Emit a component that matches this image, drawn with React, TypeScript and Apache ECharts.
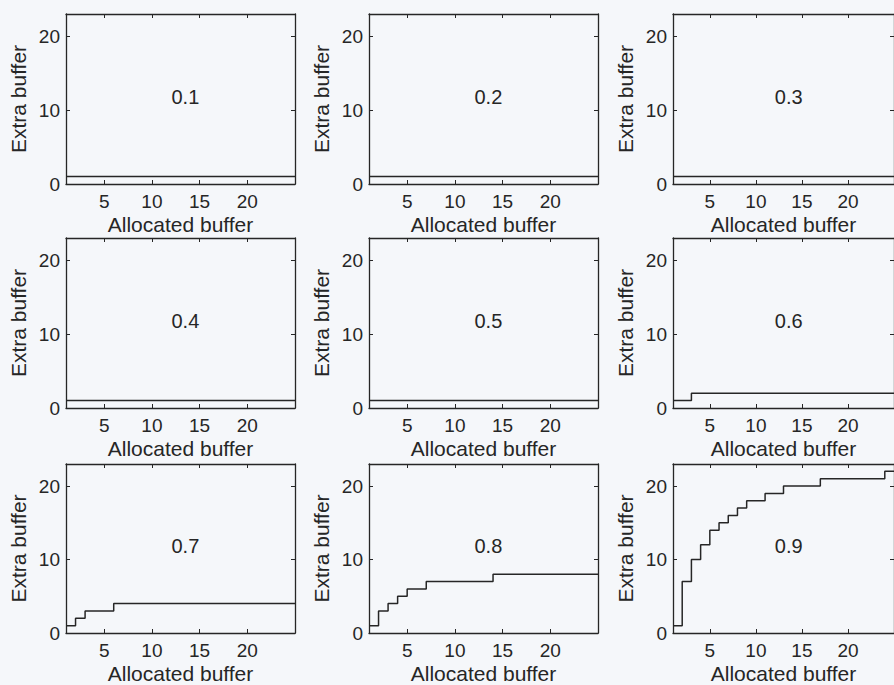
import React, { useEffect, useRef } from 'react';
import * as echarts from 'echarts';

const allocated = [1, 2, 3, 4, 5, 6, 7, 8, 9, 10, 11, 12, 13, 14, 15, 16, 17, 18, 19, 20, 21, 22, 23, 24, 25];
const panelLabels = ['0.1', '0.2', '0.3', '0.4', '0.5', '0.6', '0.7', '0.8', '0.9'];

const extra01 = [1, 1, 1, 1, 1, 1, 1, 1, 1, 1, 1, 1, 1, 1, 1, 1, 1, 1, 1, 1, 1, 1, 1, 1, 1];
const extra02 = [1, 1, 1, 1, 1, 1, 1, 1, 1, 1, 1, 1, 1, 1, 1, 1, 1, 1, 1, 1, 1, 1, 1, 1, 1];
const extra03 = [1, 1, 1, 1, 1, 1, 1, 1, 1, 1, 1, 1, 1, 1, 1, 1, 1, 1, 1, 1, 1, 1, 1, 1, 1];
const extra04 = [1, 1, 1, 1, 1, 1, 1, 1, 1, 1, 1, 1, 1, 1, 1, 1, 1, 1, 1, 1, 1, 1, 1, 1, 1];
const extra05 = [1, 1, 1, 1, 1, 1, 1, 1, 1, 1, 1, 1, 1, 1, 1, 1, 1, 1, 1, 1, 1, 1, 1, 1, 1];
const extra06 = [1, 1, 2, 2, 2, 2, 2, 2, 2, 2, 2, 2, 2, 2, 2, 2, 2, 2, 2, 2, 2, 2, 2, 2, 2];
const extra07 = [1, 2, 3, 3, 3, 4, 4, 4, 4, 4, 4, 4, 4, 4, 4, 4, 4, 4, 4, 4, 4, 4, 4, 4, 4];
const extra08 = [1, 3, 4, 5, 6, 6, 7, 7, 7, 7, 7, 7, 7, 8, 8, 8, 8, 8, 8, 8, 8, 8, 8, 8, 8];
const extra09 = [1, 7, 10, 12, 14, 15, 16, 17, 18, 18, 19, 19, 20, 20, 20, 20, 21, 21, 21, 21, 21, 21, 21, 22, 22];

const panelValues = [extra01, extra02, extra03, extra04, extra05, extra06, extra07, extra08, extra09];

const xTicks = [5, 10, 15, 20];
const yTicks = [0, 10, 20];
const xRange = [1, 25];
const yRange = [0, 23];
const labelPos = [12, 11.8];

const FONT = 'Liberation Sans, Arial, Helvetica, sans-serif';
const INK = '#262626';

const colLefts = [66, 369, 673];
const rowTops = [14, 238, 464];
const gridW = 229;
const gridH = 170;

export default function App() {
  const ref = useRef<HTMLDivElement>(null);

  useEffect(() => {
    document.body.style.margin = '0';
    if (!ref.current) return;
    const chart = echarts.init(ref.current, undefined, { renderer: 'svg' });

    const grids: any[] = [];
    const xAxes: any[] = [];
    const yAxes: any[] = [];
    const series: any[] = [];

    panelValues.forEach((vals, i) => {
      const r = Math.floor(i / 3);
      const c = i % 3;
      grids.push({ left: colLefts[c], top: rowTops[r], width: gridW, height: gridH, containLabel: false });
      const axLine = { show: true, onZero: false, lineStyle: { color: INK, width: 1.3 } };
      const tick = { show: true, inside: true, length: 4, lineStyle: { color: INK, width: 1 } };
      xAxes.push({
        type: 'value', gridIndex: i, position: 'bottom', min: xRange[0], max: xRange[1],
        axisLine: axLine,
        axisTick: { ...tick, customValues: xTicks },
        axisLabel: { show: true, customValues: xTicks, color: INK, fontFamily: FONT, fontSize: 19, margin: 8 },
        splitLine: { show: false },
        name: 'Allocated buffer', nameLocation: 'middle', nameGap: 30,
        nameTextStyle: { color: INK, fontFamily: FONT, fontSize: 21 },
      });
      xAxes.push({
        type: 'value', gridIndex: i, position: 'top', min: xRange[0], max: xRange[1],
        axisLine: axLine,
        axisTick: { ...tick, customValues: xTicks },
        axisLabel: { show: false },
        splitLine: { show: false },
      });
      yAxes.push({
        type: 'value', gridIndex: i, position: 'left', min: yRange[0], max: yRange[1],
        axisLine: axLine,
        axisTick: { ...tick, customValues: yTicks },
        axisLabel: { show: true, customValues: yTicks, color: INK, fontFamily: FONT, fontSize: 19, margin: 6 },
        splitLine: { show: false },
        name: 'Extra buffer', nameLocation: 'middle', nameGap: 37,
        nameTextStyle: { color: INK, fontFamily: FONT, fontSize: 21 },
      });
      yAxes.push({
        type: 'value', gridIndex: i, position: 'right', min: yRange[0], max: yRange[1],
        axisLine: axLine,
        axisTick: { ...tick, customValues: yTicks },
        axisLabel: { show: false },
        splitLine: { show: false },
      });
      series.push({
        type: 'line', step: 'end', xAxisIndex: 2 * i, yAxisIndex: 2 * i,
        data: allocated.map((x, k) => [x, vals[k]]),
        showSymbol: false, symbol: 'none',
        lineStyle: { color: INK, width: 1.5 },
        clip: true,
      });
      series.push({
        type: 'scatter', xAxisIndex: 2 * i, yAxisIndex: 2 * i,
        data: [labelPos],
        symbolSize: 1, itemStyle: { color: 'rgba(0,0,0,0)' },
        label: {
          show: true, position: 'right', distance: 0, formatter: panelLabels[i],
          color: INK, opacity: 1, fontFamily: FONT, fontSize: 20,
        },
        silent: true,
      });
    });

    chart.setOption({
      animation: false,
      backgroundColor: '#f5f7fa',
      grid: grids,
      xAxis: xAxes,
      yAxis: yAxes,
      series,
    });

    return () => chart.dispose();
  }, []);

  return <div ref={ref} style={{ width: 894, height: 685 }} />;
}
